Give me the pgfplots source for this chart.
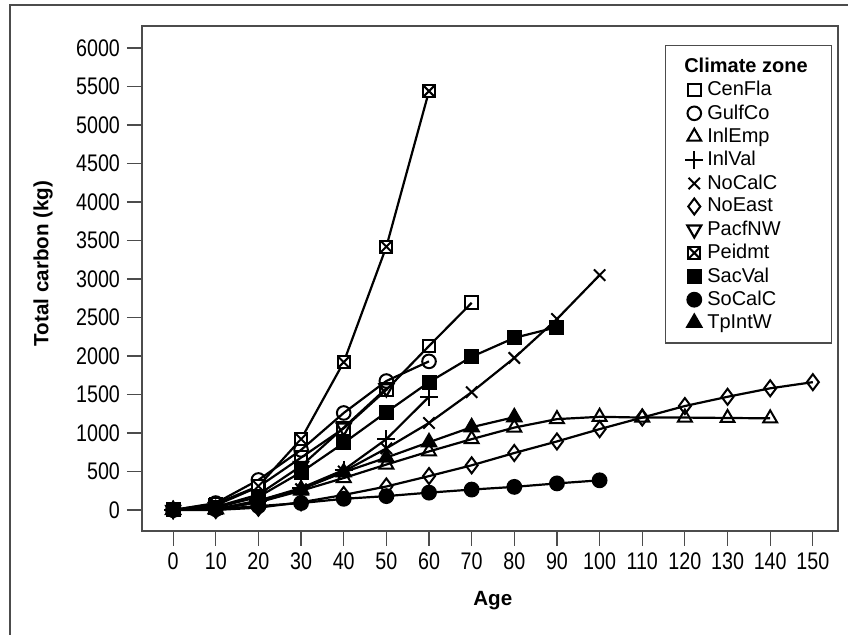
\documentclass[border=0pt]{standalone}
\usepackage{fontspec}
\setmainfont{Liberation Sans}
\newfontfamily\tickfont[FakeStretch=0.82]{Liberation Sans}
\usepackage{pgfplots}
\pgfplotsset{compat=1.18}

% square with a cross inside (Peidmt)
\pgfdeclareplotmark{boxx}{%
  \pgfpathrectangle{\pgfqpoint{-\pgfplotmarksize}{-\pgfplotmarksize}}{\pgfqpoint{2\pgfplotmarksize}{2\pgfplotmarksize}}%
  \pgfusepathqfillstroke
  \pgfpathmoveto{\pgfqpoint{-\pgfplotmarksize}{-\pgfplotmarksize}}%
  \pgfpathlineto{\pgfqpoint{\pgfplotmarksize}{\pgfplotmarksize}}%
  \pgfpathmoveto{\pgfqpoint{-\pgfplotmarksize}{\pgfplotmarksize}}%
  \pgfpathlineto{\pgfqpoint{\pgfplotmarksize}{-\pgfplotmarksize}}%
  \pgfusepathqstroke}

\begin{document}
\begin{tikzpicture}
\useasboundingbox (-71pt,-52pt) rectangle (353pt,265.5pt);
\draw[line width=0.6pt, black!70] (-66pt,-52pt) -- (-66pt,263pt) -- (353pt,263pt);
\begin{axis}[
    at={(0pt,0pt)}, anchor=south west,
    scale only axis,
    width=348pt, height=252.5pt,
    xmin=-7.3, xmax=155.9,
    ymin=-273, ymax=6286,
    xtick={0,10,...,150},
    ytick={0,500,...,6000},
    tick align=outside,
    xtick pos=bottom, ytick pos=left,
    major tick length=7.5pt,
    tick style={black!70, line width=0.6pt},
    axis line style={black!70, line width=0.6pt},
    /pgf/number format/1000 sep={},
    /pgf/number format/assume math mode=true,
    tick label style={font=\tickfont\fontsize{12}{14}\selectfont},
    xlabel={\textbf{Age}},
    ylabel={\textbf{Total carbon (kg)}},
    label style={font=\fontsize{10.3}{12}\selectfont},
    xlabel style={at={(axis description cs:0.504,-0.137)}, anchor=center},
    ylabel style={at={(axis description cs:-0.142,0.53)}, anchor=center},
    legend style={at={(axis description cs:0.751,0.962)}, anchor=north west,
        draw=black!70, line width=0.6pt, font=\fontsize{10}{12}\selectfont,
        row sep=-1.05pt, inner xsep=10pt, inner ysep=4pt},
    legend cell align=left,
    legend image code/.code={\draw[#1,only marks] plot coordinates {(0.15cm,0cm)};},
    every axis plot/.append style={black, line width=1.1pt, mark options={line width=1pt, fill=white, solid}},
]
\addlegendimage{empty legend}
\addlegendentry{\hspace*{-11.5pt}\fontsize{10}{13}\selectfont\textbf{Climate zone}\rule[-4.5pt]{0pt}{4pt}}

% CenFla
\addplot[mark=square, mark size=3.2pt] coordinates {
(0,0) (10,60) (20,300) (30,680) (40,1060) (50,1560) (60,2130) (70,2690)};
\addlegendentry{CenFla}
% GulfCo
\addplot[mark=o, mark size=3.4pt] coordinates {
(0,0) (10,90) (20,390) (30,780) (40,1260) (50,1675) (60,1930)};
\addlegendentry{GulfCo}
% InlEmp
\addplot[mark=triangle, mark size=4pt] coordinates {
(0,0) (10,10) (20,100) (30,250) (40,415) (50,590) (60,760) (70,920) (80,1070)
(90,1180) (100,1210) (110,1200) (120,1200) (130,1195) (140,1190)};
\addlegendentry{InlEmp}
% InlVal
\addplot[mark=+, mark size=4.5pt] coordinates {
(0,0) (10,10) (20,120) (30,285) (40,520) (50,920) (60,1470)};
\addlegendentry{InlVal}
% NoCalC
\addplot[mark=x, mark size=4pt] coordinates {
(0,0) (10,10) (20,120) (30,270) (40,500) (50,800) (60,1130) (70,1530) (80,1975)
(90,2480) (100,3050)};
\addlegendentry{NoCalC}
% NoEast
\addplot[mark=diamond, mark size=4pt] coordinates {
(0,0) (10,0) (20,30) (30,100) (40,195) (50,305) (60,440) (70,580) (80,740)
(90,890) (100,1050) (110,1200) (120,1350) (130,1470) (140,1580) (150,1660)};
\addlegendentry{NoEast}
% PacfNW
\addplot[mark=triangle, mark size=4pt, mark options={rotate=180}] coordinates {
(0,0) (10,40) (20,200) (30,570) (40,1070) (50,1580)};
\addlegendentry{PacfNW}
% Peidmt
\addplot[mark=boxx, mark size=3pt] coordinates {
(0,0) (10,80) (20,310) (30,920) (40,1920) (50,3420) (60,5440)};
\addlegendentry{Peidmt}
% SacVal
\addplot[mark=square*, mark size=3.2pt, mark options={fill=black}] coordinates {
(0,0) (10,30) (20,170) (30,490) (40,870) (50,1270) (60,1660) (70,1990) (80,2235)
(90,2375)};
\addlegendentry{SacVal}
% SoCalC
\addplot[mark=*, mark size=3.4pt, mark options={fill=black}] coordinates {
(0,0) (10,10) (20,50) (30,90) (40,145) (50,180) (60,225) (70,265) (80,300)
(90,345) (100,385)};
\addlegendentry{SoCalC}
% TpIntW
\addplot[mark=triangle*, mark size=4pt, mark options={fill=black}] coordinates {
(0,0) (10,10) (20,100) (30,270) (40,490) (50,680) (60,880) (70,1075) (80,1205)};
\addlegendentry{TpIntW}
\end{axis}
\end{tikzpicture}
\end{document}
